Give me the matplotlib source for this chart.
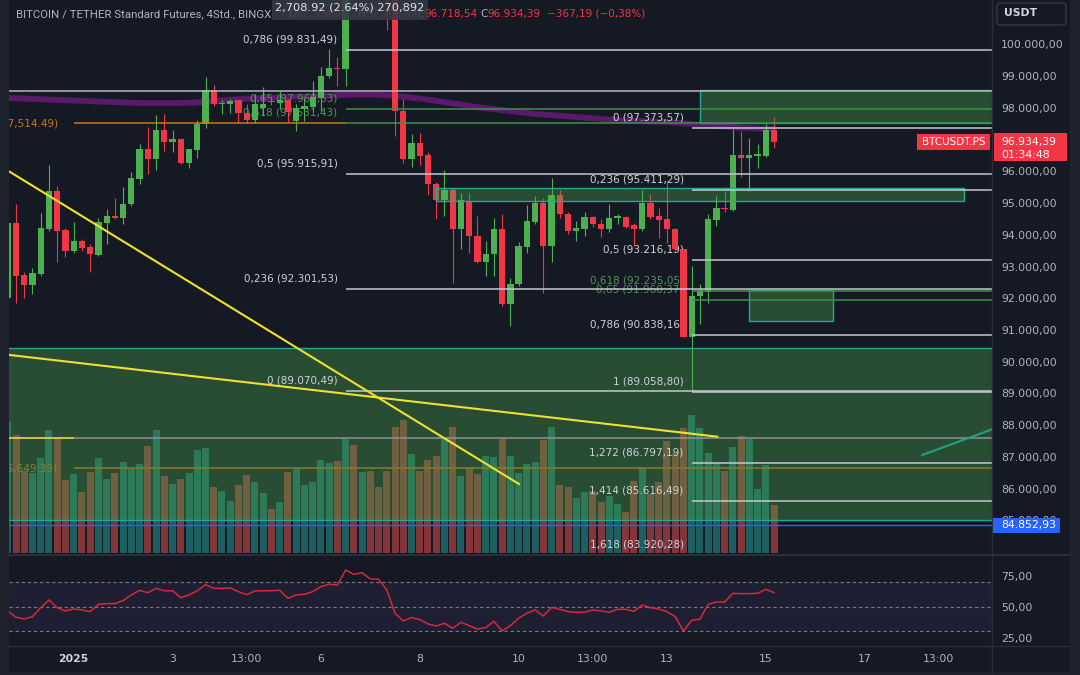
import numpy as np
import matplotlib
matplotlib.use("Agg")
import matplotlib.pyplot as plt
from matplotlib.patches import Rectangle, FancyBboxPatch
from matplotlib.lines import Line2D

plt.rcParams['font.family'] = ['DejaVu Sans']

# 4h candles, BTCUSDT.PS (BingX)
opens = [92012, 94371, 92736, 92421, 92767, 94183, 95377, 94151, 93490, 93805,
         93616, 93365, 94371, 94591, 94528, 94969, 95755, 96698, 96384, 97296,
         96918, 97013, 96258, 96667, 97484, 98553, 98113, 98113, 98239, 97830,
         97610, 97987, 98207, 98145, 98239, 97579, 97956, 98019, 98302, 98994,
         99245, 99214, 102000, 101700, 102200, 101900, 101700, 101500, 97893, 96393,
         96896, 96500, 95607, 95085, 95409, 94173, 95063, 93962, 93144, 93386,
         94192, 91814, 92443, 93626, 94412, 95009, 93648, 95251, 94645, 94120,
         94192, 94569, 94349, 94173, 94537, 94569, 94308, 94173, 95009, 94591,
         94487, 94192, 93544, 90786, 92075, 92210, 94465, 94833, 94780, 96509,
         96425, 96478, 96478, 97304.07]
highs = [94400, 94969, 92830, 92956, 94685, 96195, 95535, 94214, 94402, 93868,
         93711, 94528, 94811, 95157, 95503, 95975, 96855, 97390, 97767, 97799,
         97296, 97040, 96698, 97610, 98962, 98711, 98239, 98270, 98260, 98113,
         98428, 98648, 98365, 98522, 98270, 98113, 98302, 98836, 99277, 99843,
         99591, 102300, 102300, 102500, 102400, 102100, 101900, 101800, 98293, 97170,
         97211, 96613, 95660, 96028, 95470, 95324, 95324, 94591, 93805, 94537,
         94645, 92651, 93770, 94937, 95220, 95167, 95786, 95399, 94717, 94434,
         94726, 94591, 94487, 94959, 94645, 94591, 94371, 95399, 95273, 94833,
         95692, 94214, 93560, 93018, 92462, 94645, 95220, 95377, 97318, 97264,
         97035, 96865, 97475, 97700.44]
lows = [91990, 91855, 92012, 92138, 92704, 94120, 93144, 93302, 93428, 93490,
        92830, 93340, 93711, 94500, 94340, 94900, 95597, 95912, 96038, 96635,
        96604, 96230, 96101, 96415, 97358, 98050, 97799, 97830, 97516, 97516,
        97516, 97767, 98082, 97956, 97548, 97264, 97579, 97893, 97893, 98931,
        98680, 98680, 101500, 101600, 101700, 101450, 100440, 97107, 96267, 96141,
        96185, 95242, 94487, 94591, 92494, 93563, 93418, 93110, 92704, 92704,
        91761, 91132, 92390, 93437, 94330, 92179, 93154, 94537, 94034, 93805,
        93962, 94245, 93931, 94097, 94349, 94204, 93648, 94120, 94487, 93890,
        93751, 93490, 90764, 89058.80, 91204, 91865, 94277, 94717, 94760, 95817,
        95377, 96110, 96460, 96718.54]
closes = [94371, 92704, 92421, 92798, 94214, 95377, 94120, 93490, 93805, 93585,
          93396, 94402, 94591, 94528, 94969, 95786, 96698, 96384, 97296, 96918,
          97013, 96270, 96690, 97484, 98553, 98113, 98145, 98207, 97830, 97610,
          98113, 98113, 98176, 98239, 97862, 97987, 98050, 98333, 98994, 99245,
          99214, 102000, 101700, 102200, 101900, 101700, 101500, 97893, 96393, 96896,
          96478, 95588, 95085, 95409, 94173, 95085, 93962, 93144, 93386, 94192,
          91814, 92462, 93648, 94434, 95009, 93648, 95251, 94645, 94120, 94204,
          94569, 94330, 94173, 94537, 94591, 94245, 94192, 95009, 94569, 94465,
          94192, 93544, 90786, 92075, 92254, 94487, 94833, 94802, 96509, 96406,
          96509, 96531, 97304.07, 96934.39]
volumes = [13.2, 11.8, 8.2, 8.0, 9.5, 12.3, 11.5, 7.3, 7.9, 6.1,
           8.1, 9.5, 7.4, 8.0, 9.1, 8.4, 8.9, 10.7, 12.3, 7.7,
           6.9, 7.4, 8.0, 10.3, 10.5, 6.6, 6.2, 5.2, 6.8, 7.8,
           7.1, 6.0, 4.4, 5.1, 8.1, 8.5, 6.8, 7.1, 9.3, 9.0,
           9.2, 11.4, 10.8, 8.1, 8.2, 6.6, 8.2, 12.6, 13.3, 9.9,
           8.2, 9.3, 9.7, 11.6, 12.6, 7.7, 8.5, 7.9, 9.7, 9.6,
           11.4, 9.7, 8.0, 8.9, 9.1, 11.3, 12.6, 6.8, 6.6, 5.5,
           6.1, 6.2, 5.1, 5.7, 4.9, 4.1, 7.2, 8.6, 5.9, 7.1,
           11.2, 10.0, 12.5, 13.8, 12.5, 10.0, 9.0, 8.2, 10.6, 11.7,
           11.4, 6.4, 8.8, 4.8]
rsi = [46.5, 41.4, 40.0, 41.9, 49.1, 55.3, 49.1, 46.5, 48.1, 47.3,
       45.9, 51.8, 52.4, 52.4, 54.8, 59.4, 63.1, 61.2, 64.7, 62.8,
       62.8, 57.2, 59.4, 62.8, 67.7, 64.7, 64.7, 65.0, 62.0, 59.6,
       62.6, 62.8, 62.8, 63.1, 56.7, 59.4, 59.9, 62.0, 66.1, 68.0,
       67.4, 79.5, 76.0, 77.3, 72.3, 72.0, 63.4, 44.6, 38.4, 41.1,
       39.5, 36.0, 34.4, 36.5, 32.5, 37.3, 34.6, 31.9, 33.0, 38.1,
       30.3, 34.6, 40.6, 44.6, 47.3, 42.4, 49.4, 47.8, 45.9, 45.4,
       45.4, 47.3, 46.5, 45.4, 47.8, 47.8, 46.2, 51.3, 49.1, 48.1,
       45.9, 41.9, 30.3, 39.0, 39.8, 51.8, 53.7, 53.7, 60.7, 60.4,
       60.4, 60.7, 63.9, 61.2]
ma = [98310, 98300, 98290, 98280, 98270, 98260, 98250, 98240, 98230, 98220,
      98210, 98200, 98190, 98180, 98170, 98160, 98150, 98150, 98150, 98150,
      98150, 98150, 98160, 98170, 98190, 98210, 98230, 98250, 98270, 98290,
      98300, 98310, 98320, 98330, 98340, 98350, 98360, 98370, 98380, 98390,
      98400, 98410, 98420, 98420, 98420, 98410, 98400, 98380, 98350, 98320,
      98290, 98260, 98220, 98180, 98140, 98100, 98060, 98020, 97990, 97960,
      97930, 97900, 97870, 97840, 97810, 97790, 97770, 97750, 97730, 97710,
      97690, 97670, 97650, 97630, 97610, 97600, 97590, 97580, 97570, 97560,
      97550, 97530, 97510, 97490, 97470, 97450, 97430, 97410, 97390, 97370,
      97360, 97350, 97340, 97330]

left_fib_levels = [99831.49, 97960.53, 97531.43, 95915.91, 92301.53, 89070.49]
left_fib_labels = ["0,786 (99.831,49)", "0,65 (97.960,53)", "0,618 (97.531,43)",
                   "0,5 (95.915,91)", "0,236 (92.301,53)", "0 (89.070,49)"]
left_fib_green = [False, True, True, False, False, False]
right_fib_levels = [97373.57, 95411.29, 93216.19, 92235.05, 91960.37, 90838.16,
                    89058.80, 86797.19, 85616.49, 83920.28]
right_fib_labels = ["0 (97.373,57)", "0,236 (95.411,29)", "0,5 (93.216,19)",
                    "0,618 (92.235,05)", "0,65 (91.960,37)", "0,786 (90.838,16)",
                    "1 (89.058,80)", "1,272 (86.797,19)", "1,414 (85.616,49)",
                    "1,618 (83.920,28)"]
right_fib_green = [False, False, False, True, True, False, False, False, False, False]

price_ticks = list(range(85000, 100001, 1000))
rsi_ticks = [25, 50, 75]
time_ticks = [8, 20, 29, 38, 50, 62, 71, 80, 92, 104, 113]
time_labels = ["2025", "3", "13:00", "6", "8", "10", "13:00", "13", "15", "17", "13:00"]

last_price = 96934.39
alert_price = 84852.93

# drawings (candle index, price)
steep_line = ([0.22, 62.04], [95988, 86148])
shallow_line = ([0.22, 86.12], [90213, 87639])
teal_line = ([110.99, 119.45], [87062, 87869])

W, H = 1080, 675
BG = "#151924"
EDGE = "#1e222d"
SEP = "#2a2e39"
TXT = "#b2b5be"
UP = "#4caf50"
DOWN = "#f23645"
WHITE_LN = "#c4c7cf"
GREEN_LN = "#3f9148"
GREEN_TXT = "#4a9a4f"
ZONE = (76/255, 175/255, 80/255, 0.35)
ZONE_EDGE = "#22ab94"

def de(v):
    s = f"{v:,.2f}"
    return s.replace(",", "X").replace(".", ",").replace("X", ".")

opens = np.array(opens); closes = np.array(closes)
highs = np.array(highs); lows = np.array(lows)
n = len(opens)
x = np.arange(n)
up = closes >= opens

fig = plt.figure(figsize=(W/100, H/100), dpi=100, facecolor=BG)

def fbox(px0, py0, px1, py1):
    return [px0/W, 1 - py1/H, (px1 - px0)/W, (py1 - py0)/H]

XL = (0.15, 119.45)

# volume pane underneath the price pane
ax_vol = fig.add_axes(fbox(9, 0, 992, 553))
ax_vol.set_facecolor(BG)
ax_vol.bar(x, volumes, width=0.85, color=np.where(up, "#26a69a", "#ef5350"), alpha=0.5, linewidth=0)
ax_vol.set_xlim(XL)
ax_vol.set_ylim(0, 55.3)
ax_vol.axis('off')

ax = fig.add_axes(fbox(9, 0, 992, 553))
ax.set_facecolor('none')
ax.set_xlim(XL)
ax.set_ylim(83974, 101397)
for s in ax.spines.values():
    s.set_visible(False)
ax.set_xticks([])
ax.yaxis.tick_right()
ax.set_yticks(price_ticks, [de(p) for p in price_ticks])
ax.tick_params(axis='y', length=0, pad=6.5, labelsize=7.8, labelcolor=TXT)

# zones
ax.add_patch(Rectangle((-5, 85000), 140, 90424 - 85000, fc=ZONE, ec=ZONE_EDGE, lw=1, zorder=1.5))
ax.add_patch(Rectangle((84.0, 97514.49), 50, 98550 - 97514.49, fc=ZONE, ec=ZONE_EDGE, lw=1, zorder=7))
ax.add_patch(Rectangle((52.0, 95050), 116.1 - 52.0, 95465 - 95050, fc=ZONE, ec=ZONE_EDGE, lw=1, zorder=7))
ax.add_patch(Rectangle((90.0, 91283), 100.1 - 90.0, 92260 - 91283, fc=ZONE, ec=ZONE_EDGE, lw=1, zorder=7))

# moving average
ax.plot(x, ma, color="#5a1a6a", lw=4.2, zorder=3, solid_capstyle='butt')

# candles
cols = np.where(up, UP, DOWN)
ax.vlines(x, lows, highs, colors=cols, lw=0.8, zorder=6)
body_lo = np.minimum(opens, closes)
body_h = np.maximum(np.abs(closes - opens), 35)
ax.bar(x, body_h, bottom=body_lo, width=0.76, color=cols, linewidth=0, zorder=6)

# horizontal levels
ax.axhline(98540, color="#b4b7c0", lw=1.1, zorder=8)
ax.hlines(97514.49, 8, 41, color="#c7791f", lw=1.1, zorder=8)
ax.hlines(87588, XL[0], 8, color="#d9cf4a", lw=1.3, zorder=8)
ax.hlines(87588, 8, XL[1], color="#8e9099", lw=1.1, zorder=8)
ax.hlines(86649.39, 8, XL[1], color="#8a7a2a", lw=1.1, zorder=8)
ax.axhline(alert_price, color="#2962ff", lw=1, zorder=8)
ax.text(6.1, 97514.49, "(97,514.49)", ha='right', va='center', color="#c7791f", fontsize=7.5, zorder=5, clip_on=True)
ax.text(6.0, 86649.39, "(86,649.39)", ha='right', va='center', color="#8e7d2c", fontsize=7.5, zorder=5, clip_on=True)

for lvl, lbl, g in zip(left_fib_levels, left_fib_labels, left_fib_green):
    ax.hlines(lvl, 41, XL[1], color=GREEN_LN if g else WHITE_LN, lw=1.1, zorder=8)
    ax.annotate(lbl, xy=(41, lvl), xytext=(-8, 10.5), textcoords='offset pixels', ha='right', va='center',
                fontsize=7.5, color=GREEN_TXT if g else "#cfd2d9", zorder=5, annotation_clip=False)
for lvl, lbl, g in zip(right_fib_levels, right_fib_labels, right_fib_green):
    ax.hlines(lvl, 83, XL[1], color=GREEN_LN if g else WHITE_LN, lw=1.1, zorder=8)
    ax.annotate(lbl, xy=(83, lvl), xytext=(-8, 10.5), textcoords='offset pixels', ha='right', va='center',
                fontsize=7.5, color=GREEN_TXT if g else "#cfd2d9", zorder=5, annotation_clip=False)

# trend lines
ax.plot(*steep_line, color="#f0e130", lw=1.5, zorder=8)
ax.plot(*shallow_line, color="#f0e130", lw=1.5, zorder=8)
ax.plot(*teal_line, color="#22a082", lw=1.5, zorder=8)

# RSI pane
ax_rsi = fig.add_axes(fbox(9, 556, 992, 645))
ax_rsi.set_facecolor(BG)
ax_rsi.set_xlim(XL)
ax_rsi.set_ylim(19.0, 90.8)
ax_rsi.axhspan(30, 70, color="#7e57c2", alpha=0.1, lw=0)
for v in (70, 50, 30):
    ax_rsi.axhline(v, color="#787b86", lw=0.8, ls=(0, (3, 2.5)))
ax_rsi.plot(x, rsi, color="#d6283e", lw=1.1)
for s in ax_rsi.spines.values():
    s.set_visible(False)
ax_rsi.yaxis.tick_right()
ax_rsi.set_yticks(rsi_ticks, [de(v) for v in rsi_ticks])
ax_rsi.set_xticks(time_ticks, time_labels)
ax_rsi.tick_params(axis='y', length=0, pad=6.5, labelsize=7.8, labelcolor=TXT)
ax_rsi.tick_params(axis='x', length=0, pad=6.5, labelsize=7.8, labelcolor=TXT)
first = ax_rsi.get_xticklabels()[0]
first.set_fontweight('bold')
first.set_color("#d1d4dc")

# frame / separators
for r in [(0, 0, 9, H), (1070, 0, 1080, H), (0, 672, 1080, 675)]:
    fig.add_artist(Rectangle((r[0]/W, 1 - r[3]/H), (r[2]-r[0])/W, (r[3]-r[1])/H,
                             transform=fig.transFigure, fc=EDGE, ec='none', zorder=1))
fig.add_artist(Line2D([992/W, 992/W], [1, 1 - 672/H], transform=fig.transFigure, color=SEP, lw=1, zorder=1))
fig.add_artist(Line2D([9/W, 1070/W], [1 - 554.5/H] * 2, transform=fig.transFigure, color=SEP, lw=1.5, zorder=1))
fig.add_artist(Line2D([9/W, 1070/W], [1 - 645.5/H] * 2, transform=fig.transFigure, color=SEP, lw=1, zorder=1))

def fig_y(p):
    return fig.transFigure.inverted().transform(ax.transData.transform((0, p)))[1]

# last price labels
yl = fig_y(last_price)
fig.add_artist(Rectangle((994/W, yl - 19.5/H), 73/W, 28/H, transform=fig.transFigure, fc=DOWN, ec='none', zorder=10))
fig.text(1001/W, yl, de(last_price), color='white', fontsize=7.8, va='center', zorder=11)
fig.text(1001/W, yl - 13/H, "01:34:48", color='white', fontsize=7.8, va='center', zorder=11)
fig.add_artist(Rectangle((917/W, yl - 8.5/H), 73/W, 16/H, transform=fig.transFigure, fc=DOWN, ec='none', zorder=10))
fig.text(953.5/W, yl - 0.5/H, "BTCUSDT.PS", color='white', fontsize=7.5, ha='center', va='center', zorder=11)

ya = fig_y(alert_price)
fig.add_artist(Rectangle((993/W, ya - 7.5/H), 67/W, 15/H, transform=fig.transFigure, fc="#2962ff", ec='none', zorder=10))
fig.text(1001/W, ya, de(alert_price), color='white', fontsize=7.8, va='center', zorder=11)

# currency box
fig.add_artist(FancyBboxPatch((997/W, 1 - 25/H), 69/W, 22/H, boxstyle="round,pad=0,rounding_size=0.004",
                              transform=fig.transFigure, fc=BG, ec="#363a45", lw=1, zorder=10))
fig.text(1004/W, 1 - 13.5/H, "USDT", color="#d1d4dc", fontsize=7.8, va='center', fontweight='bold', zorder=11)

# header
fig.text(16/W, 1 - 14/H, "BITCOIN / TETHER Standard Futures, 4Std., BINGX", family=['Roboto', 'DejaVu Sans'],
         fontsize=8.2, color=TXT, va='center', zorder=3)
header_parts = [("O", 288.5, TXT), ("97.304,07", 295, DOWN), ("H", 358, TXT), ("97.700,44", 365, DOWN),
                ("L", 418, TXT), ("96.718,54", 424, DOWN), ("C", 480.5, TXT), ("96.934,39", 487, DOWN),
                ("\u2212367,19 (\u22120,38%)", 547, DOWN)]
for t, px, c in header_parts:
    fig.text(px/W, 1 - 14/H, t, fontsize=7.5, color=c, va='center', zorder=3)

# measure tooltip
fig.add_artist(Rectangle((272/W, 1 - 20/H), 156/W, 20/H, transform=fig.transFigure,
                         fc="#363a45", ec='none', alpha=0.88, zorder=20))
fig.text(350/W, 1 - 7.5/H, "2,708.92 (2.64%) 270,892", color="#e0e3eb", fontsize=8.2,
         ha='center', va='center', zorder=21)

fig.savefig("out.png", dpi=100, facecolor=BG)
